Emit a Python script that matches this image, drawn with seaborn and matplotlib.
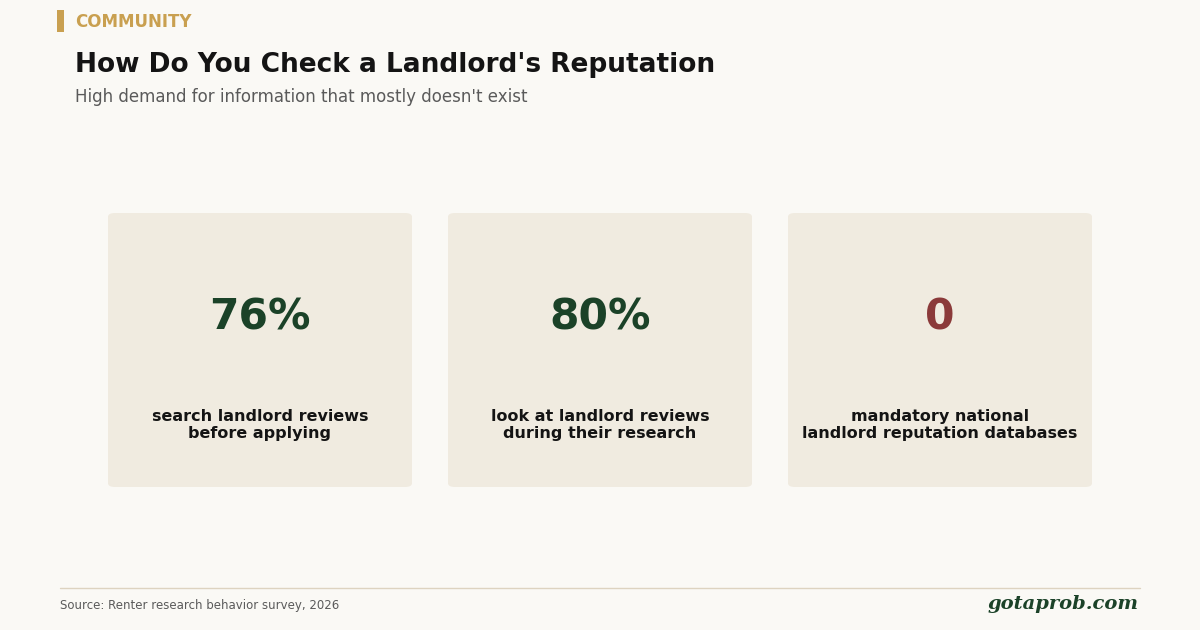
import matplotlib
matplotlib.use('Agg')
import matplotlib.pyplot as plt
import seaborn as sns
from matplotlib.patches import FancyBboxPatch

sns.set_theme(style='white')
plt.rcParams['font.family'] = ['DejaVu Sans']

# 카드 데이터
stat_values = ['76%', '80%', '0']
stat_labels = ['search landlord reviews\nbefore applying',
               'look at landlord reviews\nduring their research',
               'mandatory national\nlandlord reputation databases']
stat_colors = ['#1b4228', '#1b4228', '#8b3a3a']

BG = '#faf9f5'
CARD = '#f0ebe0'

fig = plt.figure(figsize=(12, 6.3), dpi=100, facecolor=BG)
W, H = 1200, 630

def fx(px):
    return px / W

def fy(py):
    return 1 - py / H

# 상단 태그
fig.patches.append(FancyBboxPatch((fx(57), fy(32)), fx(7), 22 / H, boxstyle='square,pad=0',
                                  transform=fig.transFigure, facecolor='#c9a050', edgecolor='none'))
fig.text(fx(75), fy(22), 'COMMUNITY', color='#c9a050', fontsize=12, fontweight='bold', va='center')
fig.text(fx(75), fy(65), "How Do You Check a Landlord's Reputation", color='#141414',
         fontsize=19, fontweight='bold', va='center')
fig.text(fx(75), fy(97), "High demand for information that mostly doesn't exist", color='#5a5a5a',
         fontsize=12, va='center')

# 카드
for i, (v, lab, c) in enumerate(zip(stat_values, stat_labels, stat_colors)):
    left = 108 + i * 340
    fig.patches.append(FancyBboxPatch((fx(left), fy(487)), fx(304), 274 / H,
                                      boxstyle='round,pad=0,rounding_size=0.006',
                                      transform=fig.transFigure, facecolor=CARD, edgecolor='none'))
    cx = fx(left + 152)
    fig.text(cx, fy(317), v, color=c, fontsize=30.5, fontweight='bold', ha='center', va='center')
    fig.text(cx, fy(425), lab, color='#141414', fontsize=11.5, fontweight='bold',
             ha='center', va='center', linespacing=1.2)

# 하단
fig.add_artist(plt.Line2D([fx(60), fx(1140)], [fy(588), fy(588)], color='#ddd3c0', lw=1))
fig.text(fx(60), fy(606), 'Source: Renter research behavior survey, 2026', color='#5a5a5a',
         fontsize=8.5, va='center')
fig.text(fx(1139), fy(604), 'gotaprob.com', color='#1b4228', fontsize=14, fontweight='bold',
         fontstyle='italic', family='DejaVu Serif', ha='right', va='center')

fig.savefig('out.png', dpi=100, facecolor=BG)
